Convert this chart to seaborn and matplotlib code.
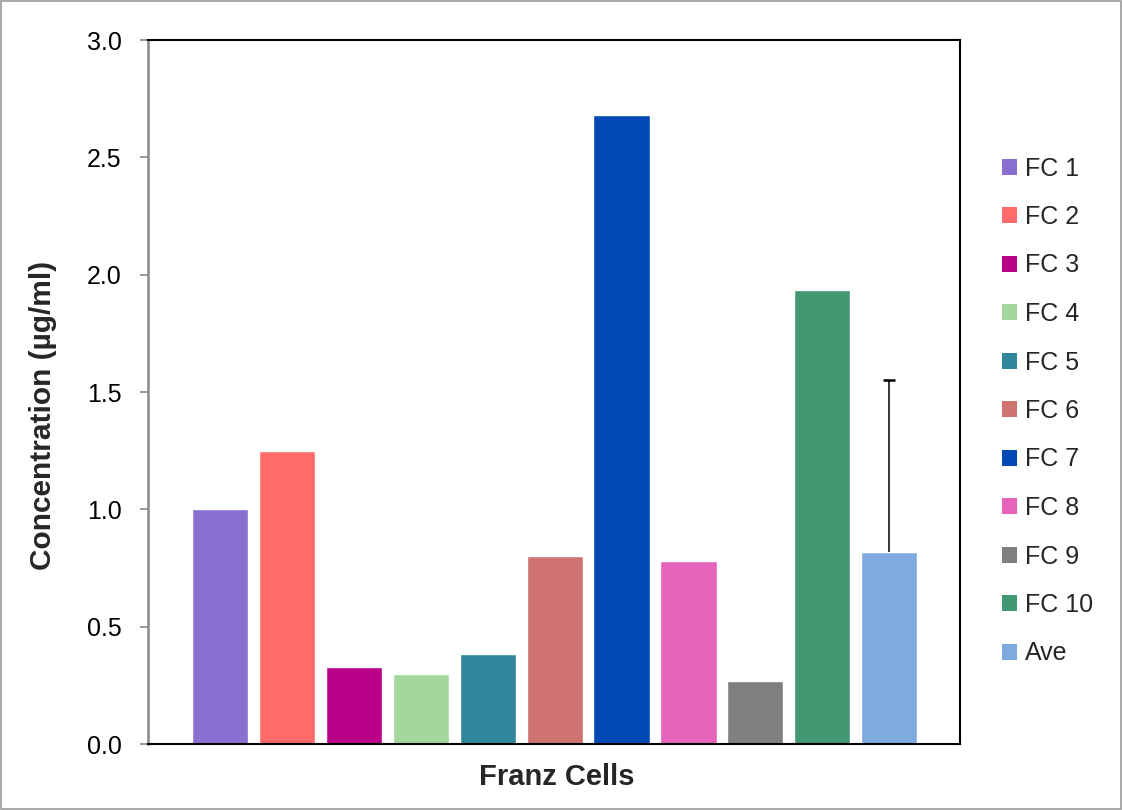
import matplotlib
matplotlib.use("Agg")
import matplotlib.pyplot as plt
from matplotlib.patches import Patch
import pandas as pd
import seaborn as sns

cells = ["FC 1", "FC 2", "FC 3", "FC 4", "FC 5", "FC 6", "FC 7", "FC 8", "FC 9", "FC 10", "Ave"]
conc = [1.00, 1.25, 0.33, 0.30, 0.385, 0.80, 2.68, 0.78, 0.27, 1.935, 0.818]
ave_err = 0.733
colors = ["#8A6FD0", "#FF6A6A", "#BA0086", "#A2D89C", "#31869B", "#CE7370",
          "#0349B3", "#E764BD", "#7F7F7F", "#419872", "#7FAADF"]

df = pd.DataFrame({"cell": cells, "conc": conc})

sns.set_theme(style="white")
plt.rcParams["font.family"] = ["Liberation Sans", "DejaVu Sans"]

fig = plt.figure(figsize=(11.22, 8.10), dpi=100)
ax = fig.add_axes([148 / 1122, 1 - 744 / 810, (960 - 148) / 1122, (744 - 40) / 810])

sns.barplot(data=df, x="cell", y="conc", hue="cell", palette=colors,
            width=0.84, legend=False, ax=ax, saturation=1)

# upward-only error bar on the average, cap only on top
x_ave = len(cells) - 1
ax.errorbar(x_ave, conc[-1], yerr=[[0], [ave_err]], fmt="none",
            ecolor="black", elinewidth=1.1, capsize=0)
ax.plot([x_ave], [conc[-1] + ave_err], marker="_", markersize=9,
        markeredgewidth=1.8, color="black")

ax.set_xlim(-1.08, len(cells) - 1 + 1.06)
ax.set_ylim(0, 3.0)
ax.set_yticks([0.0, 0.5, 1.0, 1.5, 2.0, 2.5, 3.0])
ax.set_yticklabels([f"{v:.1f}" for v in ax.get_yticks()], fontsize=18)
ax.set_xticks([])
ax.set_xlabel("Franz Cells", fontsize=21, fontweight="bold")
ax.set_ylabel("Concentration (µg/ml)", fontsize=21.5, fontweight="bold")
ax.xaxis.set_label_coords(0.504, -0.027)
ax.yaxis.set_label_coords(-0.112, 0.467)

for side in ["top", "right", "bottom"]:
    ax.spines[side].set_color("black")
    ax.spines[side].set_linewidth(1.5)
ax.spines["left"].set_color("#888888")
ax.spines["left"].set_linewidth(1.8)
ax.tick_params(axis="y", direction="out", length=6, width=1.2, color="#888888",
               left=True, pad=13, labelcolor="black")

handles = [Patch(facecolor=c, edgecolor="none") for c in colors]
fig.legend(handles, cells, loc="center left", bbox_to_anchor=(979 / 1122, 1 - 411 / 810),
           frameon=False, fontsize=18, handlelength=0.6, handleheight=0.6,
           handletextpad=0.35, labelspacing=0.98)

fig.patches.append(plt.Rectangle((0.001, 0.001), 0.998, 0.998, transform=fig.transFigure,
                                 fill=False, edgecolor="#999999", linewidth=1.2))

fig.savefig("out.png", dpi=100)
